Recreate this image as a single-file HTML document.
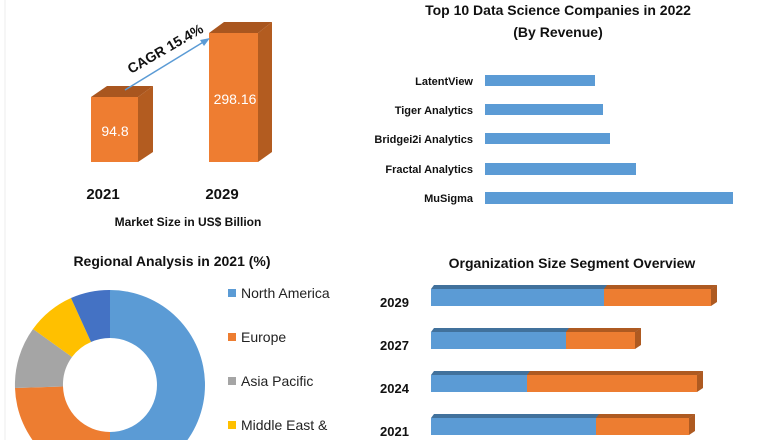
<!DOCTYPE html>
<html><head><meta charset="utf-8"><style>
html,body{margin:0;padding:0;background:#fff;width:780px;height:440px;overflow:hidden;}
svg{display:block;font-family:"Liberation Sans",sans-serif;}
.b{font-weight:bold;fill:#111;}
</style></head><body>
<svg width="780" height="440" viewBox="0 0 780 440">
<rect width="780" height="440" fill="#fff"/>
<line x1="5" y1="0" x2="5" y2="440" stroke="#eee"/>
<polygon points="91,97 107,86 153,86 138,97" fill="#a9561f"/>
<polygon points="138,97 153,86 153,152 138,162" fill="#b35c20"/>
<rect x="91" y="97" width="47" height="65" fill="#ee7d31"/>
<polygon points="209,33 224,22 272,22 258,33" fill="#a9561f"/>
<polygon points="258,33 272,22 272,152 258,162" fill="#b35c20"/>
<rect x="209" y="33" width="49" height="129" fill="#ee7d31"/>
<text x="115" y="136" fill="#fff" font-size="14" text-anchor="middle">94.8</text>
<text x="235" y="104" fill="#fff" font-size="14" text-anchor="middle">298.16</text>
<line x1="125" y1="90" x2="205" y2="41" stroke="#5b9bd5" stroke-width="1.5"/>
<polygon points="210,38 200,40 204,46" fill="#5b9bd5"/>
<text x="0" y="0" class="b" font-size="14" transform="translate(131,74) rotate(-30)">CAGR 15.4%</text>
<text x="103" y="199" class="b" font-size="15" text-anchor="middle">2021</text>
<text x="222" y="199" class="b" font-size="15" text-anchor="middle">2029</text>
<text x="188" y="226" class="b" font-size="12" text-anchor="middle">Market Size in US$ Billion</text>
<text x="558" y="15" class="b" font-size="14" text-anchor="middle">Top 10 Data Science Companies in 2022</text>
<text x="558" y="37" class="b" font-size="14" text-anchor="middle">(By Revenue)</text>
<g fill="#5b9bd5">
<rect x="485" y="75" width="110" height="11"/>
<rect x="485" y="104" width="118" height="11"/>
<rect x="485" y="133" width="125" height="11"/>
<rect x="485" y="163" width="151" height="12"/>
<rect x="485" y="192" width="248" height="12"/>
</g>
<g class="b" font-size="11" text-anchor="end">
<text x="473" y="85">LatentView</text>
<text x="473" y="114">Tiger Analytics</text>
<text x="473" y="143">Bridgei2i Analytics</text>
<text x="473" y="173">Fractal Analytics</text>
<text x="473" y="202">MuSigma</text>
</g>
<text x="172" y="266" class="b" font-size="14" text-anchor="middle">Regional Analysis in 2021 (%)</text>
<g transform="translate(110,385)">
<path d="M0,-95 A95,95 0 0 1 0,95 L0,47 A47,47 0 0 0 0,-47Z" fill="#5b9bd5"/>
<path d="M0,95 A95,95 0 0 1 -95,3 L-47,1.5 A47,47 0 0 0 0,47Z" fill="#ed7d31"/>
<path d="M-95,3 A95,95 0 0 1 -77,-56 L-38,-28 A47,47 0 0 0 -47,1.5Z" fill="#a5a5a5"/>
<path d="M-77,-56 A95,95 0 0 1 -39,-87 L-19,-43 A47,47 0 0 0 -38,-28Z" fill="#ffc000"/>
<path d="M-39,-87 A95,95 0 0 1 0,-95 L0,-47 A47,47 0 0 0 -19,-43Z" fill="#4472c4"/>
</g>
<g font-size="14" fill="#222">
<rect x="228" y="289" width="8" height="8" fill="#5b9bd5"/><text x="241" y="298">North America</text>
<rect x="228" y="333" width="8" height="8" fill="#ed7d31"/><text x="241" y="342">Europe</text>
<rect x="228" y="377" width="8" height="8" fill="#a5a5a5"/><text x="241" y="386">Asia Pacific</text>
<rect x="228" y="421" width="8" height="8" fill="#ffc000"/><text x="241" y="430">Middle East &amp;</text>
</g>
<text x="572" y="268" class="b" font-size="14" text-anchor="middle">Organization Size Segment Overview</text>
<g class="b" font-size="13">
<text x="380" y="307">2029</text>
<text x="380" y="350">2027</text>
<text x="380" y="393">2024</text>
<text x="380" y="436">2021</text>
</g>
<g>
<polygon points="431,289 434,285 717,285 711,289" fill="#41719c"/><polygon points="604,289 607,285 717,285 711,289" fill="#ae5a21"/>
<rect x="431" y="289" width="173" height="17" fill="#5b9bd5"/><rect x="604" y="289" width="107" height="17" fill="#ed7d31"/>
<polygon points="711,289 717,285 717,302 711,306" fill="#ae5a21"/>
<polygon points="431,332 434,328 641,328 635,332" fill="#41719c"/><polygon points="566,332 569,328 641,328 635,332" fill="#ae5a21"/>
<rect x="431" y="332" width="135" height="17" fill="#5b9bd5"/><rect x="566" y="332" width="69" height="17" fill="#ed7d31"/>
<polygon points="635,332 641,328 641,345 635,349" fill="#ae5a21"/>
<polygon points="431,375 434,371 703,371 697,375" fill="#41719c"/><polygon points="527,375 530,371 703,371 697,375" fill="#ae5a21"/>
<rect x="431" y="375" width="96" height="17" fill="#5b9bd5"/><rect x="527" y="375" width="170" height="17" fill="#ed7d31"/>
<polygon points="697,375 703,371 703,388 697,392" fill="#ae5a21"/>
<polygon points="431,418 434,414 695,414 689,418" fill="#41719c"/><polygon points="596,418 599,414 695,414 689,418" fill="#ae5a21"/>
<rect x="431" y="418" width="165" height="17" fill="#5b9bd5"/><rect x="596" y="418" width="93" height="17" fill="#ed7d31"/>
<polygon points="689,418 695,414 695,431 689,435" fill="#ae5a21"/>
</g>
</svg>
</body></html>
